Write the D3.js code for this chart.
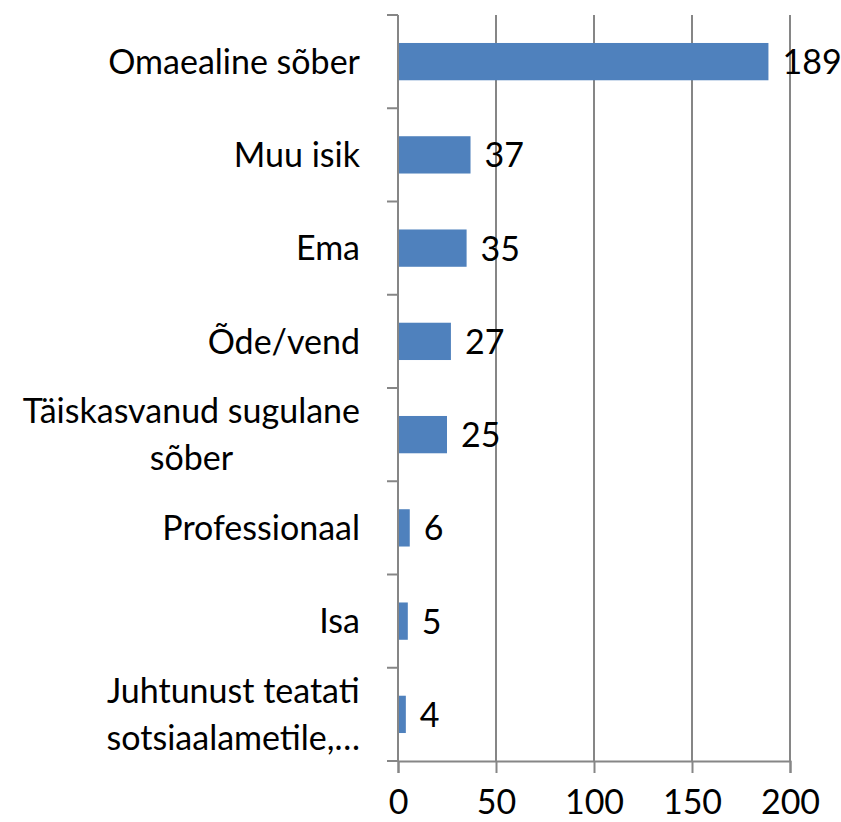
<!DOCTYPE html>
<html>
<head>
<meta charset="utf-8">
<script src="https://cdn.jsdelivr.net/npm/d3@7"></script>
<style>
  html, body { margin: 0; padding: 0; background: #fff; }
  svg text { font-family: Lato, "Open Sans", sans-serif; fill: #000; }
</style>
</head>
<body>
<svg id="chart" width="841" height="822"></svg>
<script>
// Categories top to bottom; multi-line labels are split into lines.
const categories = [
  ["Omaealine sõber"],
  ["Muu isik"],
  ["Ema"],
  ["Õde/vend"],
  ["Täiskasvanud sugulane", "sõber"],
  ["Professionaal"],
  ["Isa"],
  ["Juhtunust teatati", "sotsiaalametile,…"],
];
const values = [189, 37, 35, 27, 25, 6, 5, 4];
const xTicks = [0, 50, 100, 150, 200];

const svg = d3.select("#chart");
const margin = { top: 15, right: 51, bottom: 61, left: 398 };
const width = 841 - margin.left - margin.right;
const height = 822 - margin.top - margin.bottom;
const fontSize = 34;
const axisColor = "#868686";
const barColor = "#4F81BD";

const g = svg.append("g").attr("transform", `translate(${margin.left},${margin.top})`);

const x = d3.scaleLinear().domain([0, 200]).range([0, width]);
const y = d3.scaleBand().domain(d3.range(categories.length)).range([0, height])
  .paddingInner(0.6).paddingOuter(0.3);
const step = y.step();

// Vertical gridlines (skip 0, the axis line covers it)
g.selectAll("line.grid")
  .data(xTicks.filter(t => t > 0))
  .enter().append("line")
  .attr("class", "grid")
  .attr("x1", d => x(d)).attr("x2", d => x(d))
  .attr("y1", 0).attr("y2", height)
  .attr("stroke", axisColor).attr("stroke-width", 2);

// Bars
g.selectAll("rect.bar")
  .data(values)
  .enter().append("rect")
  .attr("class", "bar")
  .attr("x", x(0))
  .attr("y", (d, i) => y(i))
  .attr("width", d => x(d) - x(0))
  .attr("height", y.bandwidth())
  .attr("fill", barColor);

// Value labels
g.selectAll("text.val")
  .data(values)
  .enter().append("text")
  .attr("class", "val")
  .attr("x", d => x(d) + 14)
  .attr("y", (d, i) => y(i) + y.bandwidth() / 2)
  .attr("dy", "0.37em")
  .attr("font-size", fontSize)
  .text(d => d);

// Category axis line + ticks at band boundaries
g.append("line")
  .attr("x1", 0).attr("x2", 0).attr("y1", 0).attr("y2", height)
  .attr("stroke", axisColor).attr("stroke-width", 2);
g.selectAll("line.ytick")
  .data(d3.range(categories.length + 1))
  .enter().append("line")
  .attr("class", "ytick")
  .attr("x1", -11).attr("x2", 0)
  .attr("y1", d => d * step).attr("y2", d => d * step)
  .attr("stroke", axisColor).attr("stroke-width", 2);

// Category labels: block right-aligned, lines centred within block
const lineH = 47;
categories.forEach((lines, i) => {
  const cy = y(i) + y.bandwidth() / 2;
  const t = g.append("text")
    .attr("font-size", fontSize)
    .attr("text-anchor", "middle");
  const spans = lines.map((l, j) => t.append("tspan")
    .attr("y", cy + (j - (lines.length - 1) / 2) * lineH)
    .attr("dy", "0.36em")
    .text(l));
  const w = d3.max(spans, s => s.node().getComputedTextLength());
  spans.forEach(s => s.attr("x", -38 - w / 2));
});

// Value axis at bottom
const xAxis = g.append("g")
  .attr("transform", `translate(0,${height})`)
  .call(d3.axisBottom(x).tickValues(xTicks).tickSize(12).tickPadding(17).tickFormat(d3.format("d")));
xAxis.select(".domain").attr("stroke", axisColor).attr("stroke-width", 2);
xAxis.selectAll(".tick line").attr("stroke", axisColor).attr("stroke-width", 2);
xAxis.selectAll(".tick text")
  .attr("font-size", fontSize)
  .attr("font-family", "Lato, 'Open Sans', sans-serif")
  .attr("fill", "#000");
</script>
</body>
</html>
